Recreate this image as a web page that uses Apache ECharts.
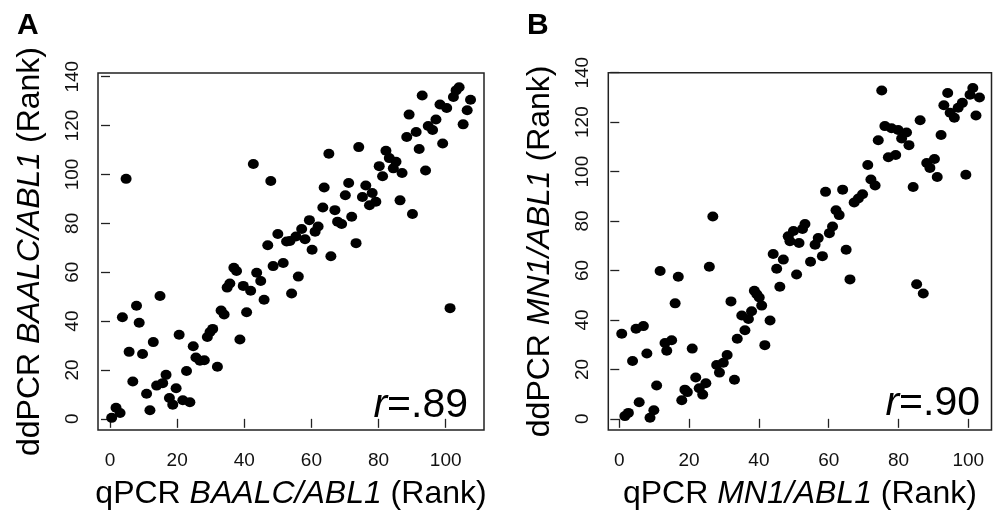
<!DOCTYPE html>
<html><head><meta charset="utf-8">
<script src="https://cdn.jsdelivr.net/npm/echarts@6/dist/echarts.min.js"></script>
<style>html,body{margin:0;padding:0;background:#fff}#c{width:993px;height:515px}</style>
</head><body><div id="c"></div>
<script>
// Tick labels
const xTicks = [0, 20, 40, 60, 80, 100];
const yTicks = [0, 20, 40, 60, 80, 100, 120, 140];

// Panel A: BAALC/ABL1 ranks (qPCR x, ddPCR y)
const baalcQpcr = [4.8,42.7,47.9,50.0,47.0,52.6,93.0,104.0,103.1,102.3,107.4,98.3,100.3,106.4,89.1,97.1,94.8,96.1,105.2,91.2,88.4,92.1,99.1,74.1,65.2,82.2,83.2,85.2,80.2,84.4,81.2,87.0,94.0,71.1,76.2,63.8,78.1,70.1,75.2,79.2,77.3,86.4,63.4,67.0,72.0,90.1,67.8,69.0,59.4,62.0,61.1,57.1,55.4,53.6,58.1,73.3,60.2,65.8,51.6,56.1,54.1,101.3,48.6,37.7,36.9,43.7,44.9,35.7,34.9,39.7,41.9,45.9,14.9,7.9,3.7,8.7,33.1,34.0,40.7,30.6,29.8,29.0,20.6,12.9,38.7,24.8,5.7,9.7,25.6,26.8,28.1,32.0,22.8,16.7,15.7,13.9,19.7,6.8,10.9,17.7,18.7,21.7,23.8,11.9,0.5,1.8,3.0];
const baalcDdpcr = [98.2,104.3,97.3,75.6,71.0,72.6,132.3,135.7,134.4,131.7,130.6,128.6,127.2,126.3,124.5,122.5,119.8,118.2,120.5,117.4,115.3,110.4,112.7,111.2,108.5,109.7,106.7,105.2,103.4,102.5,99.3,100.6,101.6,96.5,95.5,94.7,92.4,91.5,90.8,88.8,87.4,89.4,86.5,85.4,82.7,83.8,80.7,79.7,81.3,78.7,76.6,77.7,74.6,72.8,73.5,71.9,69.2,66.5,63.8,58.2,51.3,45.3,62.5,60.5,61.8,59.8,56.4,55.4,53.7,54.4,52.4,48.7,50.3,46.3,41.6,39.3,44.3,42.7,43.6,36.8,35.5,33.5,34.4,31.4,32.5,29.7,27.4,26.5,25.1,23.8,24.0,21.3,19.6,18.0,14.6,13.6,12.5,15.3,10.3,8.5,5.8,7.6,6.8,3.5,0.4,4.5,2.4];

// Panel B: MN1/ABL1 ranks (qPCR x, ddPCR y)
const mn1Qpcr = [26.8,48.4,49.9,48.9,51.5,75.2,94.1,101.3,100.5,103.2,98.3,97.1,93.0,94.8,96.0,102.2,86.2,76.1,78.0,79.9,82.3,80.9,83.0,74.2,92.2,77.1,79.2,90.3,88.1,89.0,91.1,99.3,71.2,72.1,73.3,84.2,64.0,59.1,69.7,68.5,67.3,62.1,63.0,53.2,52.5,61.1,60.2,57.0,56.1,58.2,54.8,50.8,65.0,66.1,85.2,87.1,44.1,47.0,45.1,46.0,25.8,11.7,16.9,16.0,32.0,38.7,39.4,40.1,40.8,37.9,35.1,37.0,43.2,36.0,33.8,41.7,0.7,4.8,6.9,13.1,15.0,13.6,20.9,7.9,3.8,30.9,29.8,27.9,28.7,33.0,21.9,24.8,22.9,23.9,18.8,19.5,17.9,10.7,5.7,9.9,8.8,2.6,1.6];
const mn1Ddpcr = [81.8,73.8,76.0,71.8,71.1,132.8,131.8,133.8,131.1,130.0,127.8,125.8,126.8,123.8,121.8,122.7,120.8,118.4,117.5,116.8,115.8,113.4,110.7,112.7,114.8,105.8,106.7,105.1,103.5,101.5,97.8,98.7,102.7,96.8,94.4,93.8,92.7,91.8,90.8,89.1,87.5,84.4,82.4,78.8,76.8,77.8,75.1,73.1,70.4,65.8,63.5,58.4,68.4,56.4,54.4,50.7,66.7,64.4,60.7,53.4,61.5,59.8,57.5,46.7,47.5,51.8,50.4,49.1,45.8,43.5,41.8,40.4,39.8,35.8,32.4,29.8,34.4,36.4,37.5,30.7,31.8,27.5,28.4,26.4,23.4,25.8,22.7,21.8,18.7,15.8,16.7,14.4,12.4,9.8,11.8,10.8,7.5,13.5,6.7,3.5,0.4,2.4,1.1];

const genes = ['BAALC/ABL1', 'MN1/ABL1'];
const rValues = ['.89', '.90'];
const panelLetters = ['A', 'B'];

const FONT = '"Liberation Sans", Arial, Helvetica, sans-serif';
const ink = '#000';

function titleText(prefix, gene) {
  return '{n|' + prefix + ' }{i|' + gene + '}{n| (Rank)}';
}
function nameStyle(size) {
  return {
    fontSize: size, color: ink, fontFamily: FONT,
    rich: {
      n: { fontSize: size, color: ink, fontFamily: FONT },
      i: { fontSize: size, color: ink, fontFamily: FONT, fontStyle: 'italic' }
    }
  };
}
function xAxisCfg(gi, min, max, gene) {
  return {
    type: 'value', gridIndex: gi, min: min, max: max, position: 'bottom', offset: 2,
    axisLine: { show: false }, splitLine: { show: false },
    axisTick: { show: true, length: 9, customValues: xTicks, lineStyle: { color: '#222', width: 1.3 } },
    axisLabel: { customValues: xTicks, fontSize: 19, color: '#111', margin: 19, fontFamily: FONT },
    name: titleText('qPCR', gene), nameLocation: 'middle', nameGap: 46,
    nameTextStyle: nameStyle(32)
  };
}
function yAxisCfg(gi, min, max, gene) {
  return {
    type: 'value', gridIndex: gi, min: min, max: max, position: 'left', offset: 2,
    axisLine: { show: false }, splitLine: { show: false },
    axisTick: { show: true, length: 9, customValues: yTicks, lineStyle: { color: '#222', width: 1.3 } },
    axisLabel: { customValues: yTicks, fontSize: 19, color: '#111', margin: 14, rotate: 90, fontFamily: FONT },
    name: titleText('ddPCR', gene), nameLocation: 'middle', nameGap: 50,
    nameTextStyle: nameStyle(32)
  };
}
function pairs(xs, ys) { return xs.map((x, i) => [x, ys[i]]); }

const chart = echarts.init(document.getElementById('c'), null, { renderer: 'canvas' });
chart.setOption({
  animation: false,
  backgroundColor: '#fff',
  grid: [
    { left: 98, top: 73, width: 386, height: 361, show: true, borderColor: '#222', borderWidth: 1.5, backgroundColor: 'transparent' },
    { left: 608.3, top: 72.7, width: 383.2, height: 361.3, show: true, borderColor: '#222', borderWidth: 1.5, backgroundColor: 'transparent' }
  ],
  xAxis: [
    xAxisCfg(0, -3.57, 111.41, genes[0]),
    xAxisCfg(1, -3.15, 106.65, genes[1])
  ],
  yAxis: [
    yAxisCfg(0, -4.57, 141.52, genes[0]),
    yAxisCfg(1, -4.52, 140.0, genes[1])
  ],
  series: [
    { type: 'scatter', xAxisIndex: 0, yAxisIndex: 0, data: pairs(baalcQpcr, baalcDdpcr),
      symbol: 'circle', symbolSize: [11, 10], itemStyle: { color: ink, opacity: 1 } },
    { type: 'scatter', xAxisIndex: 1, yAxisIndex: 1, data: pairs(mn1Qpcr, mn1Ddpcr),
      symbol: 'circle', symbolSize: [11, 10], itemStyle: { color: ink, opacity: 1 } }
  ],
  graphic: [
    { type: 'text', x: 17, y: 11, style: { text: panelLetters[0], font: 'bold 30px ' + FONT, fill: ink } },
    { type: 'text', x: 527, y: 11, style: { text: panelLetters[1], font: 'bold 30px ' + FONT, fill: ink } },
    { type: 'text', x: 468, y: 426, style: { text: '{i|r}{n|=' + rValues[0] + '}', align: 'right', verticalAlign: 'bottom',
        rich: { i: { font: 'italic 41px ' + FONT, fill: ink }, n: { font: '41px ' + FONT, fill: ink } } } },
    { type: 'text', x: 980, y: 424, style: { text: '{i|r}{n|=' + rValues[1] + '}', align: 'right', verticalAlign: 'bottom',
        rich: { i: { font: 'italic 41px ' + FONT, fill: ink }, n: { font: '41px ' + FONT, fill: ink } } } }
  ]
});
</script>
</body></html>
